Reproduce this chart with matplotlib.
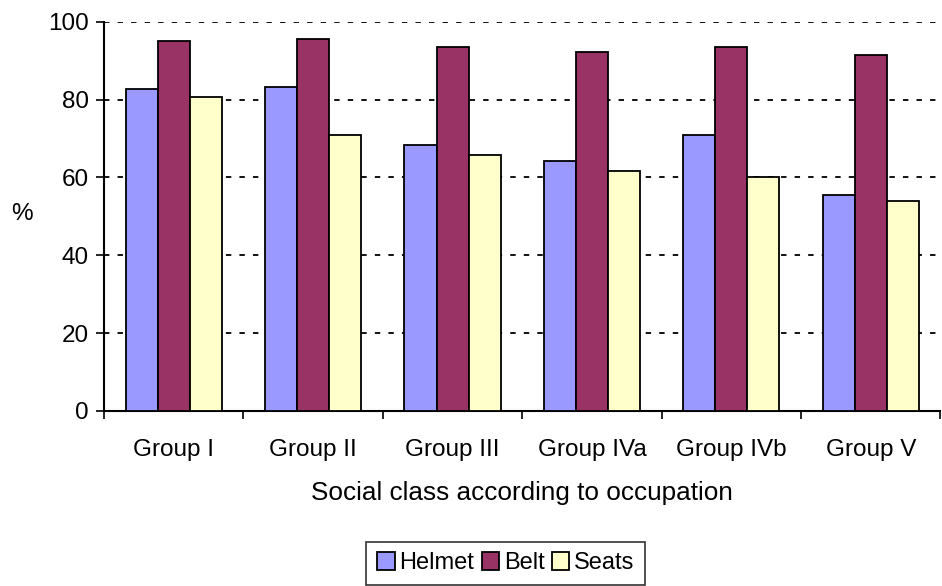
import matplotlib
matplotlib.use("Agg")
import matplotlib.pyplot as plt
import numpy as np

plt.rcParams['font.family'] = ['Liberation Sans', 'DejaVu Sans']

groups = ["Group I", "Group II", "Group III", "Group IVa", "Group IVb", "Group V"]
helmet = [82.7, 83.2, 68.3, 64.3, 70.9, 55.5]
belt = [95.0, 95.5, 93.5, 92.4, 93.5, 91.4]
seats = [80.6, 70.9, 65.8, 61.6, 60.2, 54.0]
series_names = ["Helmet", "Belt", "Seats"]
colors = ["#9999FF", "#993366", "#FFFFCC"]
yticks = [0, 20, 40, 60, 80, 100]

FS = 17.5

fig = plt.figure(figsize=(9.42, 5.86), dpi=100)
ax = fig.add_axes([0.1104, 0.299, 0.888, 0.6635])

x = np.arange(len(groups))
w = 0.23
for i, (vals, name, c) in enumerate(zip([helmet, belt, seats], series_names, colors)):
    ax.bar(x + (i - 1) * w, vals, width=w, color=c, edgecolor="black",
           linewidth=1.3, label=name, zorder=3)

ax.set_xlim(-0.5, len(groups) - 0.5)
ax.set_ylim(0, 100)
ax.set_yticks(yticks)
ax.yaxis.grid(True, color="black", linestyle=(0, (3, 4.5)), linewidth=1.3, zorder=1)

# category labels centred, tick marks on the boundaries
ax.set_xticks(x)
ax.set_xticklabels(groups)
ax.tick_params(axis="x", length=0, pad=20, labelsize=FS)
ax.set_xticks(np.arange(len(groups) + 1) - 0.5, minor=True)
ax.tick_params(axis="x", which="minor", length=6, width=1.2, direction="out")
ax.tick_params(axis="y", length=6, width=1.2, direction="out", labelsize=FS, pad=5)

for s in ["top", "right"]:
    ax.spines[s].set_visible(False)
for s in ["left", "bottom"]:
    ax.spines[s].set_linewidth(1.5)

ax.set_xlabel("Social class according to occupation", fontsize=18.8, labelpad=15)
ax.set_ylabel("%", fontsize=FS, rotation=0, va="center", ha="center")
ax.yaxis.set_label_coords(-0.098, 0.505)

leg = fig.legend(loc="lower center", bbox_to_anchor=(0.537, 0.0), ncol=3,
                 fontsize=17, frameon=True, fancybox=False, edgecolor="black",
                 handlelength=0.75, handleheight=0.75, handletextpad=0.2,
                 columnspacing=0.3, borderpad=0.45, borderaxespad=0.05)
leg.get_frame().set_linewidth(1.2)

fig.savefig("out.png", dpi=100)
